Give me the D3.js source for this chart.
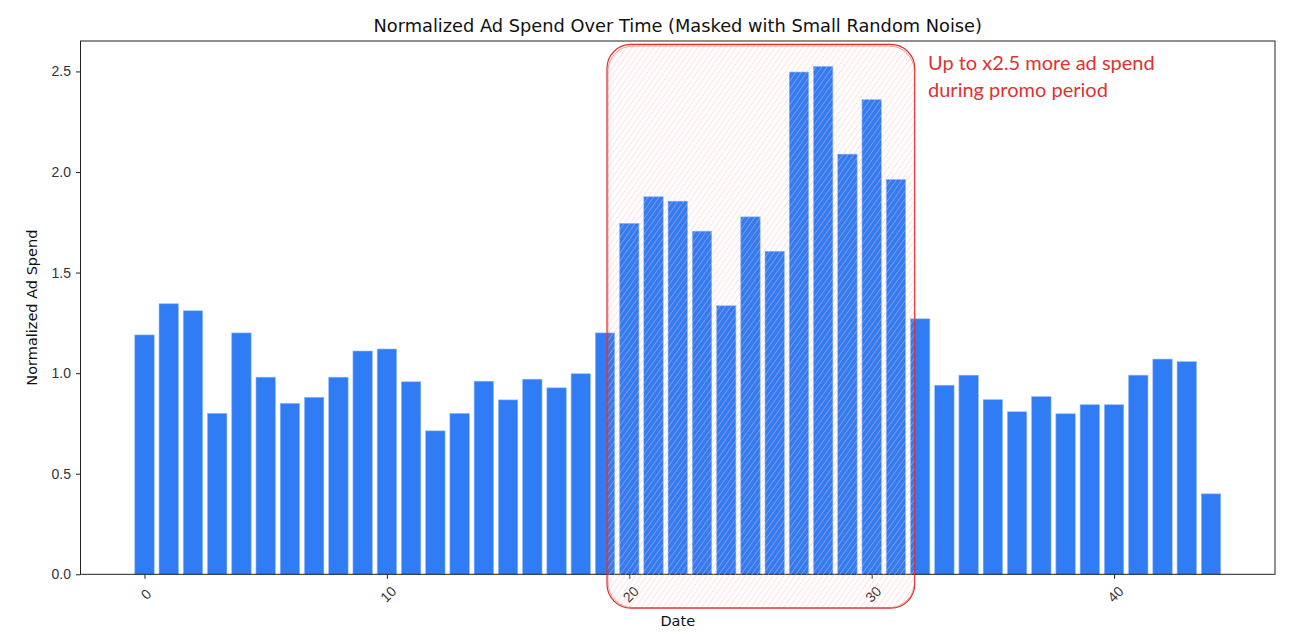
<!DOCTYPE html>
<html>
<head>
<meta charset="utf-8">
<script src="https://cdn.jsdelivr.net/npm/d3@7"></script>
<style>
  body { margin: 0; background: white; }
  svg { font-family: "DejaVu Sans", sans-serif; }
</style>
</head>
<body>
<div id="viz_area"></div>
<script>
var width = 1301
var height = 644

var margin = { top: 41, right: 26, bottom: 70, left: 80.5 }

// bar heights, one per day index
var days = d3.range(45)
var spend = [1.19, 1.345, 1.31, 0.80, 1.20, 0.98, 0.85, 0.88, 0.98, 1.11,
  1.12, 0.957, 0.713, 0.80, 0.96, 0.867, 0.97, 0.927, 0.997, 1.20,
  1.745, 1.877, 1.855, 1.706, 1.335, 1.777, 1.606, 2.497, 2.525, 2.089,
  2.36, 1.963, 1.27, 0.94, 0.99, 0.868, 0.808, 0.883, 0.798, 0.843,
  0.843, 0.99, 1.07, 1.057, 0.40]
var xTicks = [0, 10, 20, 30, 40]
var yTicks = [0, 0.5, 1.0, 1.5, 2.0, 2.5]
var promoBox = { x0: 19.08, x1: 31.78, y0: -0.168, y1: 2.634 }
var noteLines = ["Up to x2.5 more ad spend", "during promo period"]

var svg = d3.select("#viz_area")
  .append("svg")
  .attr("width", width)
  .attr("height", height)
  .style("background-color", "white")

var barW = 0.8
var xMin = -barW / 2, xMax = days.length - 1 + barW / 2
var xPad = (xMax - xMin) * 0.05
var yMax = d3.max(spend) * 1.05

var scX = d3.scaleLinear()
  .domain([xMin - xPad, xMax + xPad])
  .range([margin.left, width - margin.right])

var scY = d3.scaleLinear()
  .domain([0, yMax])
  .range([height - margin.bottom + 0.3, margin.top])

// hatch pattern for the promo box
var defs = svg.append("defs")
var pat = defs.append("pattern")
  .attr("id", "hatch")
  .attr("patternUnits", "userSpaceOnUse")
  .attr("width", 4.5)
  .attr("height", 4.5)
  .attr("patternTransform", "rotate(35)")
pat.append("line")
  .attr("x1", 0).attr("y1", 0).attr("x2", 0).attr("y2", 4.5)
  .attr("stroke", "#ffb4b4")
  .attr("stroke-opacity", 0.8)
  .attr("stroke-width", 1)

// bars
svg.append("g")
  .selectAll("rect")
  .data(days)
  .enter()
  .append("rect")
  .attr("x", d => scX(d - barW / 2))
  .attr("width", scX(barW) - scX(0))
  .attr("y", d => scY(spend[d]))
  .attr("height", d => scY(0) - scY(spend[d]))
  .attr("fill", "#2f7cf4")
  .attr("stroke", "#8fb8fb")
  .attr("stroke-width", 0.6)

// axes frame
var gx = svg.append("g")
  .attr("transform", `translate(0,${scY(0)})`)
  .call(d3.axisBottom(scX).tickValues(xTicks).tickSize(4.5).tickPadding(5))
gx.select(".domain").remove()
gx.selectAll("line").attr("stroke", "#222")
gx.selectAll("text")
  .style("font-size", "14px")
  .attr("fill", "#333")
  .attr("text-anchor", "middle")
  .attr("dy", "0.35em")
  .attr("y", 0)
  .attr("transform", "translate(1,20) rotate(-45)")

var gy = svg.append("g")
  .attr("transform", `translate(${margin.left},0)`)
  .call(d3.axisLeft(scY).tickValues(yTicks).tickFormat(d3.format(".1f")).tickSize(4.5).tickPadding(5))
gy.select(".domain").remove()
gy.selectAll("line").attr("stroke", "#222")
gy.selectAll("text").style("font-size", "14px").attr("fill", "#333")

svg.append("rect")
  .attr("x", margin.left)
  .attr("y", margin.top)
  .attr("width", width - margin.right - margin.left)
  .attr("height", scY(0) - margin.top)
  .attr("fill", "none")
  .attr("stroke", "#222")
  .attr("stroke-width", 1)

// promo box overlay
var bx = scX(promoBox.x0), bw = scX(promoBox.x1) - bx
var by = scY(promoBox.y1), bh = scY(promoBox.y0) - by
svg.append("rect")
  .attr("x", bx).attr("y", by)
  .attr("width", bw).attr("height", bh)
  .attr("rx", 24)
  .attr("fill", "url(#hatch)")
svg.append("rect")
  .attr("x", bx).attr("y", by)
  .attr("width", bw).attr("height", bh)
  .attr("rx", 24)
  .attr("fill", "none")
  .attr("stroke", "#e03131")
  .attr("stroke-width", 1.2)
svg.append("rect")
  .attr("x", bx + 1).attr("y", by + 1.5)
  .attr("width", bw - 1.5).attr("height", bh - 2)
  .attr("rx", 25)
  .attr("fill", "none")
  .attr("stroke", "#e03131")
  .attr("stroke-opacity", 0.6)
  .attr("stroke-width", 0.8)

svg.append("g")
  .selectAll("text")
  .data(noteLines)
  .enter()
  .append("text")
  .attr("x", 928)
  .attr("y", (d, i) => 70 + i * 27)
  .attr("fill", "#e03131")
  .style("font-family", "Lato, sans-serif")
  .style("font-size", "20px")
  .text(d => d)

// labels
svg.append("text")
  .attr("x", (margin.left + width - margin.right) / 2)
  .attr("y", 32)
  .attr("text-anchor", "middle")
  .style("font-size", "17.8px")
  .attr("fill", "#111")
  .text("Normalized Ad Spend Over Time (Masked with Small Random Noise)")

svg.append("text")
  .attr("x", (margin.left + width - margin.right) / 2)
  .attr("y", 626)
  .attr("text-anchor", "middle")
  .style("font-size", "14.5px")
  .attr("fill", "#111")
  .text("Date")

svg.append("text")
  .attr("transform", `translate(37,${(margin.top + scY(0)) / 2}) rotate(-90)`)
  .attr("text-anchor", "middle")
  .style("font-size", "14.5px")
  .attr("fill", "#111")
  .text("Normalized Ad Spend")
</script>
</body>
</html>
